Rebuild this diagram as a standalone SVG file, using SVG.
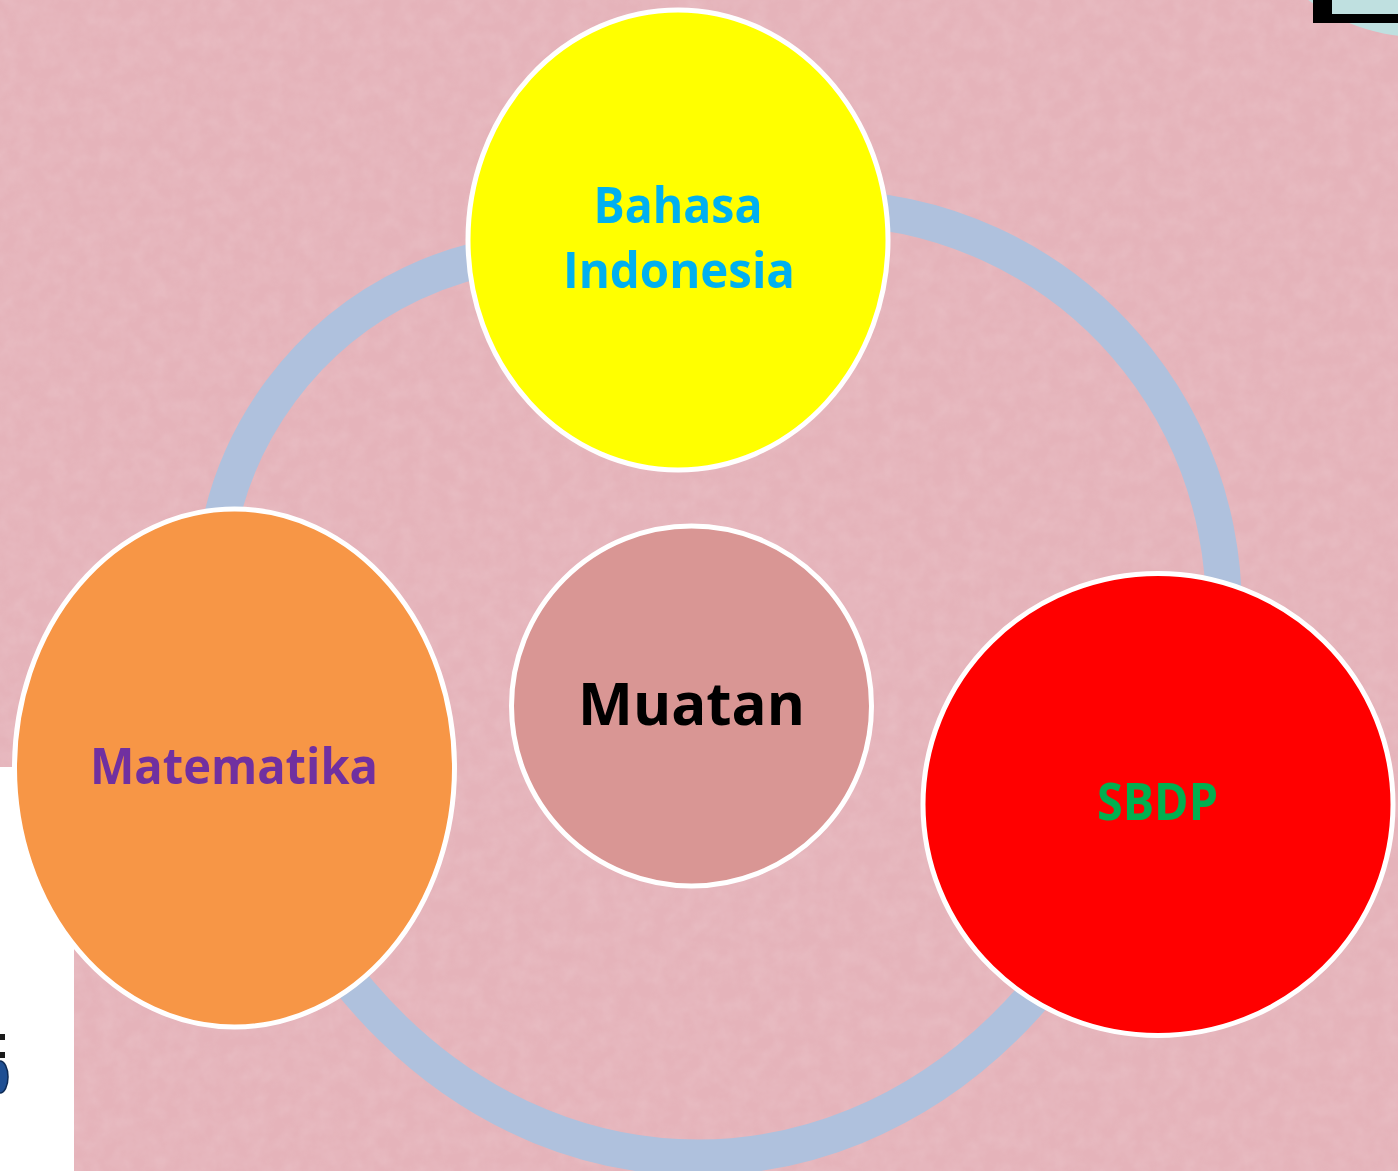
<svg xmlns="http://www.w3.org/2000/svg" width="1398" height="1171" viewBox="0 0 1398 1171">
  <style>
    .node { stroke: #ffffff; stroke-width: 5; }
    .lbl { font-family: "Open Sans", "Liberation Sans", sans-serif; font-weight: 700; text-anchor: middle; }
    .ring { fill: none; stroke: #afc1dd; stroke-width: 36; stroke-linejoin: round; }
  </style>
  <defs>
    <filter id="tex" x="0" y="0" width="100%" height="100%">
      <feTurbulence type="fractalNoise" baseFrequency="0.06" numOctaves="3" seed="7" result="n"/>
      <feColorMatrix in="n" type="matrix" values="0 0 0 0 1  0 0 0 0 1  0 0 0 0 1  0 0 0 0.5 -0.15"/>
    </filter>
  </defs>
  <rect id="background" x="0" y="0" width="1398" height="1171" fill="#e5b3ba"/>
  <rect x="0" y="0" width="1398" height="1171" filter="url(#tex)" opacity="0.35"/>

  <g id="corner">
    <circle cx="1420" cy="-150" r="187" fill="#bfe0e0"/>
    <rect x="1313" y="0" width="19" height="23" fill="#000000"/>
    <rect x="1313" y="14" width="85" height="9" fill="#000000"/>
  </g>

  <g id="connectors">
    <path class="ring" d="M 561 250 A 349 349 0 0 0 227 700 L 230 700 A 475 552 0 0 0 1166 700 L 1213 700 A 400 400 0 0 0 824 208 Z"/>
  </g>

  <g id="side-panel">
    <rect x="0" y="767" width="74" height="404" fill="#ffffff"/>
    <rect x="0" y="1034" width="5" height="6" fill="#1a1a1a"/>
    <rect x="0" y="1052" width="5" height="6" fill="#1a1a1a"/>
    <ellipse cx="0" cy="1077" rx="8" ry="16" fill="#1f4f93" stroke="#0d2a55" stroke-width="1.5"/>
  </g>

  <g id="node-bahasa">
    <ellipse class="node" cx="678" cy="240" rx="210" ry="230" fill="#ffff00"/>
    <text class="lbl" x="678" y="223" font-size="50" fill="#00b0f0" textLength="169" lengthAdjust="spacingAndGlyphs">Bahasa</text>
    <text class="lbl" x="679" y="288" font-size="50" fill="#00b0f0" textLength="232" lengthAdjust="spacingAndGlyphs">Indonesia</text>
  </g>

  <g id="node-matematika">
    <ellipse class="node" cx="234.5" cy="768" rx="220" ry="259" fill="#f79646"/>
    <text class="lbl" x="234" y="784" font-size="50" fill="#7030a0" textLength="288" lengthAdjust="spacingAndGlyphs">Matematika</text>
  </g>

  <g id="node-muatan">
    <circle class="node" cx="691.5" cy="706" r="180" fill="#d99694"/>
    <text class="lbl" x="691.5" y="725" font-size="59" fill="#000000" textLength="227" lengthAdjust="spacingAndGlyphs">Muatan</text>
  </g>

  <g id="node-sbdp">
    <ellipse class="node" cx="1158" cy="804.5" rx="235" ry="231" fill="#ff0000"/>
    <text class="lbl" x="1157.5" y="820" font-size="52" fill="#00b050" textLength="121" lengthAdjust="spacingAndGlyphs">SBDP</text>
  </g>
</svg>
